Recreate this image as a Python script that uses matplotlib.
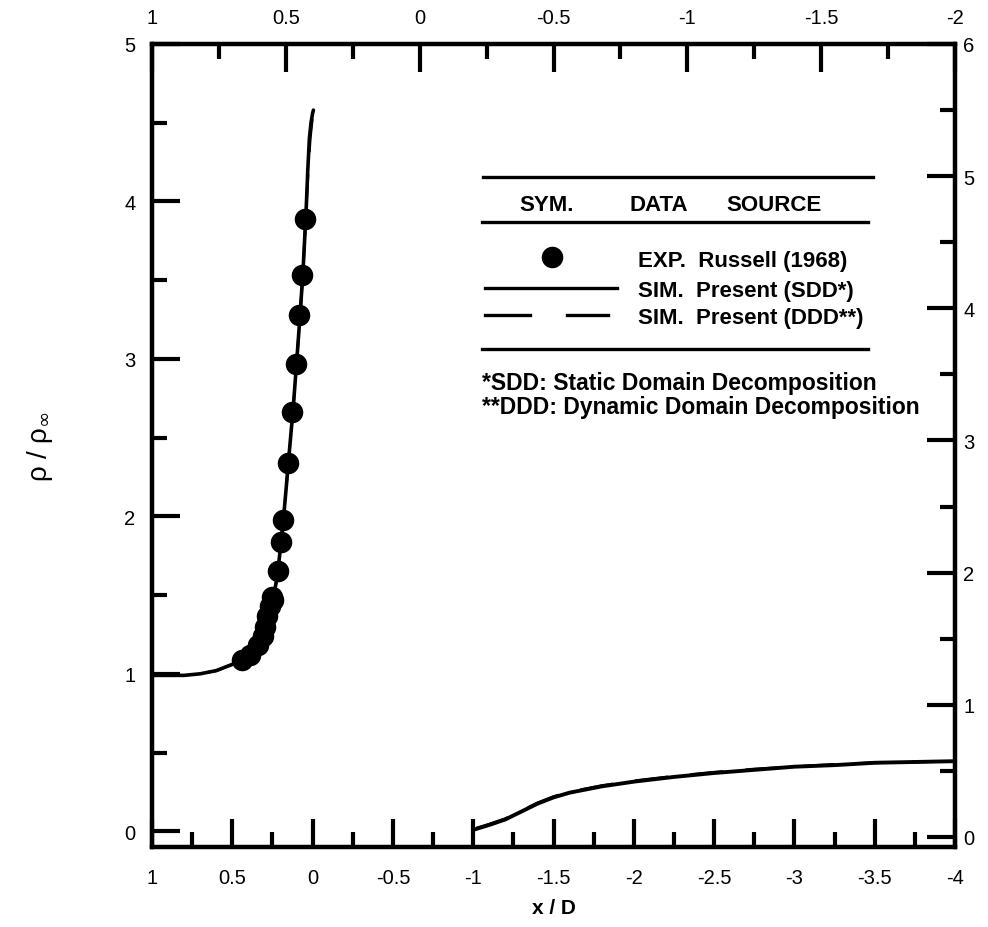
import matplotlib
matplotlib.use("Agg")
import matplotlib.pyplot as plt
from matplotlib.ticker import MultipleLocator, FormatStrFormatter

plt.rcParams['font.family'] = ['Liberation Sans', 'DejaVu Sans']
plt.rcParams['axes.unicode_minus'] = False
plt.rcParams['mathtext.fontset'] = 'dejavusans'

# ---------------- data ----------------
exp_x = [0.047, 0.066, 0.085, 0.103, 0.128, 0.153, 0.184, 0.197, 0.215, 0.247,
         0.253, 0.265, 0.284, 0.296, 0.309, 0.340, 0.39, 0.44]
exp_y = [3.89, 3.53, 3.28, 2.97, 2.66, 2.34, 1.98, 1.84, 1.65, 1.47,
         1.49, 1.43, 1.37, 1.30, 1.24, 1.18, 1.12, 1.09]

sdd_up_x = [1.0, 0.9, 0.8, 0.7, 0.6, 0.55, 0.5, 0.45, 0.4, 0.35, 0.3, 0.27, 0.25,
            0.22, 0.2, 0.18, 0.15, 0.12, 0.1, 0.08, 0.06, 0.04, 0.03, 0.02, 0.01, 0.0, -0.005]
sdd_up_y = [0.99, 0.99, 0.99, 1.00, 1.02, 1.04, 1.06, 1.09, 1.12, 1.18, 1.27, 1.36, 1.45,
            1.62, 1.80, 2.00, 2.35, 2.70, 2.97, 3.25, 3.55, 3.95, 4.20, 4.40, 4.50, 4.56, 4.58]

ddd_up_x = [1.0, 0.9, 0.8, 0.7, 0.6, 0.55, 0.5, 0.45, 0.4, 0.35, 0.3, 0.27, 0.25,
            0.22, 0.2, 0.18, 0.15, 0.12, 0.1, 0.08, 0.06, 0.045, 0.03, 0.015, 0.0, -0.01, -0.012]
ddd_up_y = [0.99, 0.99, 0.99, 1.00, 1.02, 1.04, 1.06, 1.09, 1.12, 1.18, 1.27, 1.36, 1.45,
            1.62, 1.80, 2.00, 2.35, 2.70, 2.97, 3.25, 3.55, 3.85, 4.15, 4.40, 4.54, 4.60, 4.61]

sdd_dn_x = [-1.02, -1.1, -1.2, -1.3, -1.4, -1.5, -1.6, -1.8, -2.0, -2.25, -2.5,
            -2.75, -3.0, -3.25, -3.5, -3.75, -4.0]
sdd_dn_y = [0.015, 0.04, 0.075, 0.125, 0.175, 0.215, 0.245, 0.285, 0.315, 0.345, 0.37,
            0.39, 0.41, 0.42, 0.435, 0.44, 0.445]
ddd_dn_x = [-1.02, -1.1, -1.2, -1.3, -1.4, -1.5, -1.6, -1.8, -2.0, -2.25, -2.5,
            -2.75, -3.0, -3.25, -3.5, -3.75, -4.0]
ddd_dn_y = [0.02, 0.045, 0.08, 0.13, 0.18, 0.22, 0.25, 0.29, 0.32, 0.35, 0.375,
            0.395, 0.41, 0.425, 0.435, 0.44, 0.445]

bottom_xlim = (1, -4)
top_xlim = (1, -2)
left_ylim = (-0.1, 5)
right_ylim = (-0.076, 6)

legend_header = ['SYM.', 'DATA', 'SOURCE']
legend_entries = ['EXP.  Russell (1968)', 'SIM.  Present (SDD*)', 'SIM.  Present (DDD**)']
footnotes = ['*SDD: Static Domain Decomposition', '**DDD: Dynamic Domain Decomposition']

# ---------------- figure ----------------
fig = plt.figure(figsize=(9.88, 9.28), dpi=100)
L, R, B, T = 152/988, 955/988, (928-848)/928, (928-45)/928
ax = fig.add_axes([L, B, R-L, T-B])

ax.plot(sdd_up_x, sdd_up_y, color='black', lw=2.6, solid_capstyle='round')
ax.plot(ddd_up_x, ddd_up_y, color='black', lw=2.0, ls=(0, (12, 8)))
ax.plot(sdd_dn_x, sdd_dn_y, color='black', lw=2.8)
ax.plot(ddd_dn_x, ddd_dn_y, color='black', lw=2.0, ls=(0, (12, 8)))
ax.plot(exp_x, exp_y, 'o', color='black', ms=14.5, mec='black')

ax.set_xlim(*bottom_xlim)
ax.set_ylim(*left_ylim)

ax.xaxis.set_major_locator(MultipleLocator(0.5))
ax.xaxis.set_minor_locator(MultipleLocator(0.25))
ax.yaxis.set_major_locator(MultipleLocator(1))
ax.yaxis.set_minor_locator(MultipleLocator(0.5))
ax.xaxis.set_major_formatter(FormatStrFormatter('%g'))
ax.yaxis.set_major_formatter(FormatStrFormatter('%g'))
ax.tick_params(axis='both', which='major', direction='in', length=20, width=3, labelsize=14.5)
ax.tick_params(axis='both', which='minor', direction='in', length=11, width=3)
ax.tick_params(axis='x', which='major', pad=15)
ax.tick_params(axis='y', which='major', pad=12)
ax.tick_params(top=False, right=False, which='both')
for s in ax.spines.values():
    s.set_linewidth(3)

axt = ax.twiny()
axt.set_xlim(*top_xlim)
axt.xaxis.set_major_locator(MultipleLocator(0.5))
axt.xaxis.set_minor_locator(MultipleLocator(0.25))
axt.xaxis.set_major_formatter(FormatStrFormatter('%g'))
axt.tick_params(axis='x', which='major', direction='in', length=20, width=3, labelsize=14.5, pad=12)
axt.tick_params(axis='x', which='minor', direction='in', length=11, width=3)

axr = ax.twinx()
axr.set_ylim(*right_ylim)
axr.yaxis.set_major_locator(MultipleLocator(1))
axr.yaxis.set_minor_locator(MultipleLocator(0.5))
axr.yaxis.set_major_formatter(FormatStrFormatter('%g'))
axr.tick_params(axis='y', which='major', direction='in', length=20, width=3, labelsize=14.5, pad=6)
axr.tick_params(axis='y', which='minor', direction='in', length=11, width=3)
for a in (axt, axr):
    for s in a.spines.values():
        s.set_linewidth(3)

ax.set_xlabel('x / D', fontsize=15, fontweight='bold', labelpad=8)
ax.set_ylabel('ρ / ρ$_{\\infty}$', fontsize=20, labelpad=50)

# ---------------- legend (drawn) ----------------
tr = ax.transAxes
kw = dict(transform=tr, color='black', lw=2.4, clip_on=False)
ax.plot([0.412, 0.898], [0.834, 0.834], **kw)
ax.plot([0.411, 0.892], [0.778, 0.778], **kw)
ax.plot([0.411, 0.892], [0.620, 0.620], **kw)
fs = 16
tk = dict(transform=tr, va='center', fontsize=fs, fontweight='bold')
for txt, cx in zip(legend_header, [0.491, 0.631, 0.775]):
    ax.text(cx, 0.800, txt, ha='center', **tk)
ax.plot([0.498], [0.735], 'o', color='black', ms=14.5, transform=tr, clip_on=False)
ax.plot([0.415, 0.579], [0.696, 0.696], **kw)
ax.plot([0.415, 0.471], [0.662, 0.662], **kw)
ax.plot([0.517, 0.568], [0.662, 0.662], **kw)
for txt, yy in zip(legend_entries, [0.731, 0.693, 0.659]):
    ax.text(0.605, yy, txt, ha='left', **tk)
for txt, yy in zip(footnotes, [0.578, 0.548]):
    ax.text(0.411, yy, txt, ha='left', transform=tr, va='center', fontsize=16.5, fontweight='bold')

fig.savefig('out.png', dpi=100)
